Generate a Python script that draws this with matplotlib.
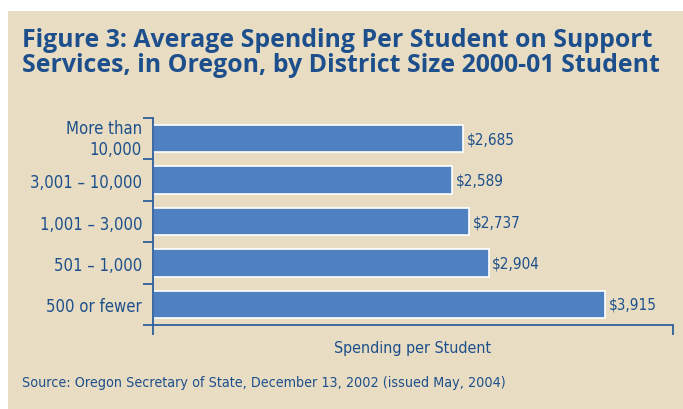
import matplotlib.pyplot as plt
import matplotlib.transforms as mtransforms
from matplotlib.patches import Rectangle
from matplotlib import font_manager

# Data
categories = ["More than\n10,000", "3,001 \u2013 10,000", "1,001 \u2013 3,000",
              "501 \u2013 1,000", "500 or fewer"]
spending = [2685, 2589, 2737, 2904, 3915]

title = "Figure 3: Average Spending Per Student on Support\nServices, in Oregon, by District Size 2000-01 Student"
source = "Source: Oregon Secretary of State, December 13, 2002 (issued May, 2004)"

bg = "#e8ddc2"
bar_color = "#4f81c1"
text_color = "#1d4f8c"
axis_color = "#2d5f9e"

names = {f.name for f in font_manager.fontManager.ttflist}
narrow = "Liberation Sans Narrow" if "Liberation Sans Narrow" in names else "DejaVu Sans"
nfont = dict(family=narrow, stretch="condensed")

fig = plt.figure(figsize=(6.83, 4.10), dpi=100)
fig.patch.set_facecolor("white")
fig.patches.append(Rectangle((8 / 683, 0), 1, 1 - 12 / 410, transform=fig.transFigure,
                             facecolor=bg, edgecolor="none", zorder=-10))

ax = fig.add_axes([153 / 683, 1 - 326 / 410, (673 - 153) / 683, (326 - 119) / 410])
ax.set_facecolor("none")

y = list(range(len(categories)))
ax.barh(y, spending, height=0.66, color=bar_color, edgecolor="white", linewidth=1.2)
for yi, v in zip(y, spending):
    ax.text(v + 30, yi, f"${v:,}", va="center", ha="left", fontsize=11,
            color=text_color, **nfont)

ax.set_xlim(0, 4500)
ax.set_ylim(4.5, -0.5)

# category labels, drawn as text just left of the axis
ax.set_yticks([])
ylab = mtransforms.blended_transform_factory(ax.transAxes, ax.transData)
for yi, cat in zip(y, categories):
    up = 0 if "\n" in cat else -2
    tr = ylab + mtransforms.ScaledTranslation(-11 / 100, up / 100, fig.dpi_scale_trans)
    ax.text(0, yi, cat, transform=tr, ha="right", va="center", fontsize=12,
            color=text_color, multialignment="right", linespacing=1.25, **nfont)
ax.set_yticks([i - 0.5 for i in range(len(categories) + 1)], minor=True)
ax.tick_params(axis="y", which="minor", length=7, width=1.3, color=axis_color, direction="out")

ax.set_xticks([0, 4500])
ax.set_xticklabels([])
ax.tick_params(axis="x", length=7, width=1.3, color=axis_color, direction="out")

for s in ["top", "right"]:
    ax.spines[s].set_visible(False)
for s in ["left", "bottom"]:
    ax.spines[s].set_color(axis_color)
    ax.spines[s].set_linewidth(1.3)

ax.set_xlabel("Spending per Student", fontsize=11.5, color=text_color, labelpad=0, **nfont)

fig.text(22 / 683, 1 - 28 / 410, title, fontsize=17.9, fontweight="bold", color=text_color,
         family="Open Sans", va="top", ha="left", linespacing=1.0)
fig.text(22 / 683, 1 - 383 / 410, source, fontsize=10.3, color=text_color,
         va="center", ha="left", **nfont)

fig.savefig("out.png", dpi=100, facecolor=fig.get_facecolor())
